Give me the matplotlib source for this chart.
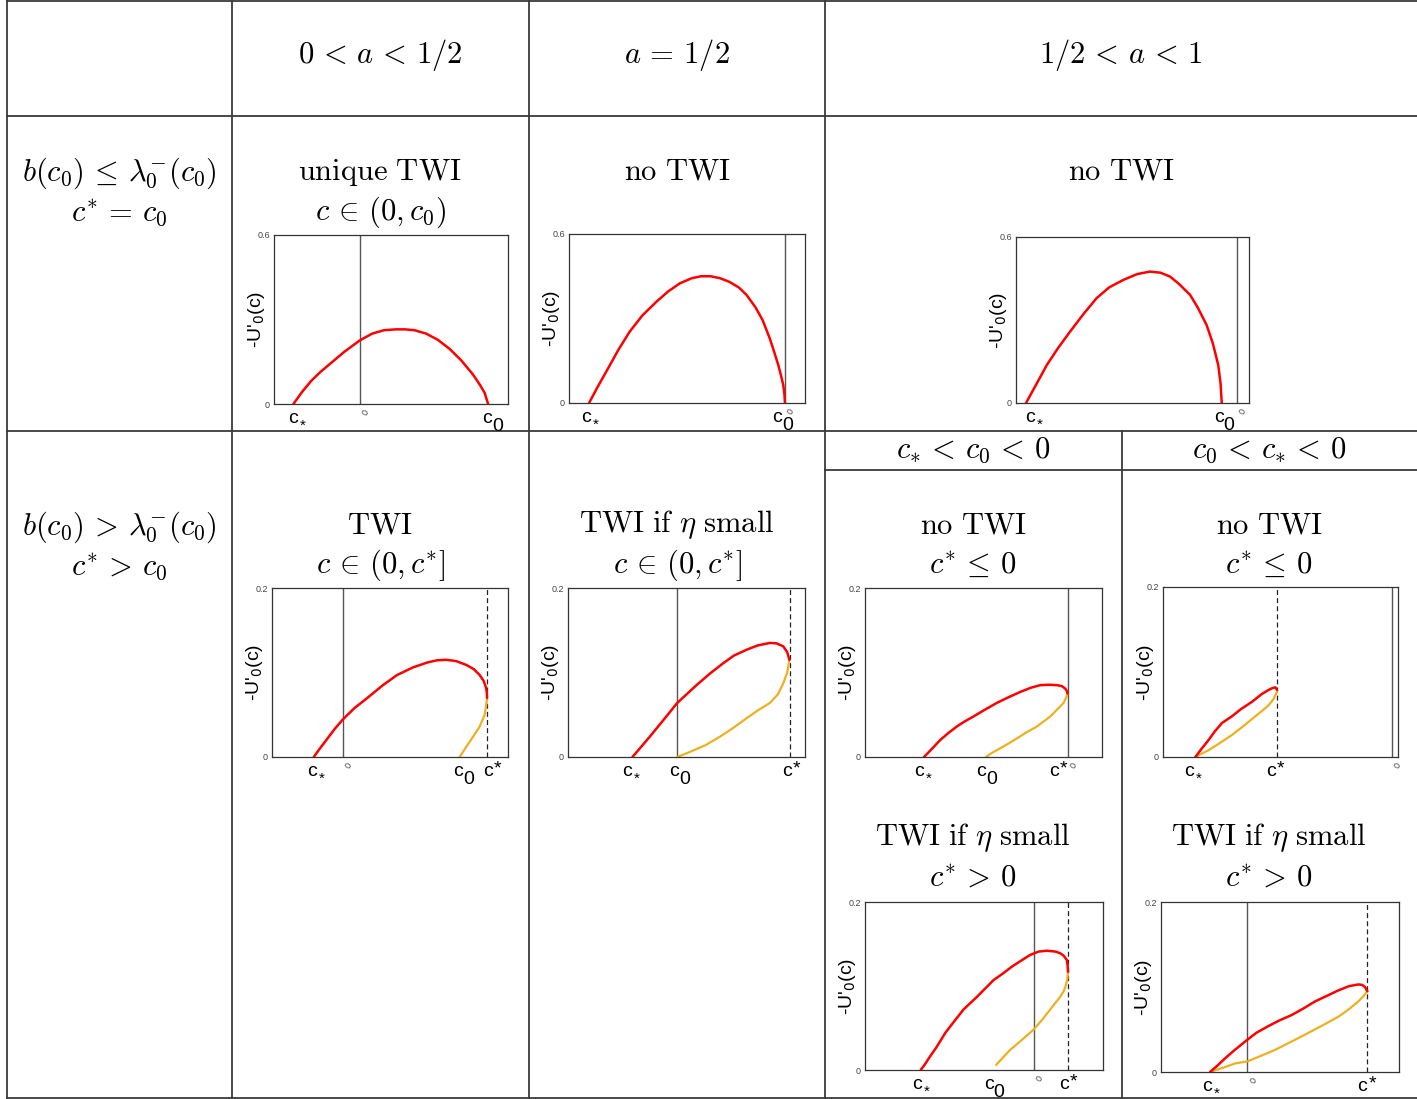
import numpy as np
import matplotlib
matplotlib.use("Agg")
import matplotlib.pyplot as plt

plt.rcParams['mathtext.fontset'] = 'cm'
plt.rcParams['font.family'] = ['Liberation Sans', 'DejaVu Sans']

W, H = 1417, 1099
RED = '#ff0000'
YEL = '#edb120'
GRID = '#3a3a3a'

# ---- table text ----
col_heads = [r'$0 \,<\, a \,<\, 1/2$', r'$a \,=\, 1/2$', r'$1/2 \,<\, a \,<\, 1$']
row_heads = [(r'$b(c_0) \,\leq\, \lambda_0^{-}(c_0)$', r'$c^{*} \,=\, c_0$'),
             (r'$b(c_0) \,>\, \lambda_0^{-}(c_0)$', r'$c^{*} \,>\, c_0$')]
sub_heads = [r'$c_{*} \,<\, c_0 \,<\, 0$', r'$c_0 \,<\, c_{*} \,<\, 0$']
titles = [(r'$\mathrm{unique\ TWI}$', r'$c \,\in\, (0, c_0)$'),
          (r'$\mathrm{no\ TWI}$', ''),
          (r'$\mathrm{no\ TWI}$', ''),
          (r'$\mathrm{TWI}$', r'$c \,\in\, (0, c^{*}]$'),
          (r'$\mathrm{TWI\ if\ }\eta\mathrm{\ small}$', r'$c \,\in\, (0, c^{*}]$'),
          (r'$\mathrm{no\ TWI}$', r'$c^{*} \,\leq\, 0$'),
          (r'$\mathrm{no\ TWI}$', r'$c^{*} \,\leq\, 0$'),
          (r'$\mathrm{TWI\ if\ }\eta\mathrm{\ small}$', r'$c^{*} \,>\, 0$'),
          (r'$\mathrm{TWI\ if\ }\eta\mathrm{\ small}$', r'$c^{*} \,>\, 0$')]

# ---- curve data (c scaled to the panel width, -U'_0(c)) ----
p1_red_c = [0.083, 0.12, 0.16, 0.20, 0.25, 0.30, 0.367, 0.42, 0.47, 0.52, 0.56, 0.60,
            0.65, 0.70, 0.75, 0.80, 0.85, 0.88, 0.90, 0.915]
p1_red_u = [0.0, 0.043, 0.083, 0.115, 0.150, 0.185, 0.226, 0.250, 0.262, 0.265, 0.265, 0.262,
            0.250, 0.228, 0.196, 0.155, 0.105, 0.068, 0.040, 0.0]

p2_red_c = [0.085, 0.12, 0.173, 0.21, 0.257, 0.31, 0.371, 0.42, 0.47, 0.52, 0.56, 0.60, 0.64,
            0.68, 0.72, 0.752, 0.79, 0.82, 0.85, 0.87, 0.887, 0.90, 0.908, 0.913, 0.915]
p2_red_u = [0.0, 0.055, 0.134, 0.190, 0.253, 0.310, 0.360, 0.396, 0.425, 0.443, 0.450, 0.450,
            0.443, 0.430, 0.410, 0.384, 0.340, 0.295, 0.231, 0.180, 0.134, 0.092, 0.063, 0.030, 0.0]

p3_red_c = [0.043, 0.09, 0.132, 0.18, 0.232, 0.29, 0.346, 0.40, 0.461, 0.52, 0.575, 0.62,
            0.661, 0.70, 0.747, 0.78, 0.818, 0.845, 0.868, 0.878, 0.883]
p3_red_u = [0.0, 0.072, 0.137, 0.198, 0.258, 0.322, 0.379, 0.418, 0.445, 0.466, 0.475, 0.471,
            0.457, 0.430, 0.391, 0.345, 0.282, 0.215, 0.137, 0.070, 0.0]

p4_red_c = [0.177, 0.20, 0.23, 0.265, 0.302, 0.35, 0.40, 0.47, 0.53, 0.597, 0.66, 0.70, 0.739,
            0.78, 0.823, 0.855, 0.880, 0.897, 0.906, 0.910, 0.911]
p4_red_u = [0.0, 0.009, 0.020, 0.033, 0.045, 0.058, 0.069, 0.085, 0.097, 0.106, 0.112, 0.1145,
            0.115, 0.1135, 0.109, 0.104, 0.097, 0.090, 0.083, 0.077, 0.070]
p4_yel_c = [0.911, 0.907, 0.901, 0.880, 0.852, 0.823, 0.795]
p4_yel_u = [0.070, 0.060, 0.050, 0.036, 0.024, 0.012, 0.0]

p5_red_c = [0.272, 0.345, 0.415, 0.461, 0.542, 0.60, 0.655, 0.70, 0.754, 0.80, 0.852, 0.88,
            0.908, 0.925, 0.934]
p5_red_u = [0.0, 0.024, 0.048, 0.064, 0.085, 0.099, 0.111, 0.120, 0.127, 0.132, 0.135, 0.1345,
            0.131, 0.124, 0.115]
p5_yel_c = [0.461, 0.514, 0.58, 0.641, 0.70, 0.754, 0.80, 0.852, 0.885, 0.908, 0.925, 0.934]
p5_yel_u = [0.0, 0.006, 0.014, 0.024, 0.035, 0.046, 0.055, 0.064, 0.074, 0.087, 0.100, 0.115]

p6_red_c = [0.249, 0.28, 0.317, 0.35, 0.387, 0.42, 0.458, 0.50, 0.556, 0.60, 0.655, 0.70,
            0.739, 0.78, 0.810, 0.83, 0.845, 0.852, 0.855]
p6_red_u = [0.0, 0.009, 0.020, 0.028, 0.036, 0.042, 0.048, 0.055, 0.064, 0.070, 0.077, 0.082,
            0.085, 0.0855, 0.085, 0.084, 0.081, 0.078, 0.075]
p6_yel_c = [0.511, 0.53, 0.556, 0.60, 0.641, 0.68, 0.725, 0.782, 0.81, 0.838, 0.848, 0.855]
p6_yel_u = [0.0, 0.004, 0.008, 0.015, 0.022, 0.029, 0.036, 0.048, 0.056, 0.064, 0.070, 0.075]

p7_red_c = [0.138, 0.165, 0.194, 0.22, 0.251, 0.294, 0.33, 0.379, 0.42, 0.450, 0.465, 0.478, 0.485]
p7_red_u = [0.0, 0.010, 0.020, 0.030, 0.040, 0.048, 0.056, 0.065, 0.074, 0.079, 0.081, 0.082, 0.079]
p7_yel_c = [0.138, 0.165, 0.194, 0.245, 0.294, 0.345, 0.393, 0.425, 0.450, 0.47, 0.485]
p7_yel_u = [0.0, 0.004, 0.008, 0.017, 0.026, 0.037, 0.048, 0.055, 0.061, 0.068, 0.077]

p8_red_c = [0.234, 0.25, 0.273, 0.30, 0.337, 0.375, 0.414, 0.44, 0.470, 0.505, 0.540, 0.58,
            0.617, 0.655, 0.694, 0.73, 0.764, 0.80, 0.820, 0.835, 0.848, 0.851, 0.853]
p8_red_u = [0.0, 0.006, 0.016, 0.027, 0.044, 0.058, 0.072, 0.079, 0.087, 0.097, 0.107, 0.115,
            0.123, 0.130, 0.137, 0.141, 0.142, 0.141, 0.139, 0.136, 0.131, 0.125, 0.117]
p8_yel_c = [0.551, 0.58, 0.610, 0.66, 0.708, 0.745, 0.778, 0.80, 0.820, 0.835, 0.842, 0.85, 0.853]
p8_yel_u = [0.006, 0.015, 0.024, 0.036, 0.048, 0.060, 0.072, 0.080, 0.087, 0.094, 0.099, 0.108, 0.117]

p9_red_c = [0.206, 0.235, 0.269, 0.31, 0.363, 0.40, 0.451, 0.50, 0.549, 0.60, 0.647, 0.70,
            0.745, 0.79, 0.829, 0.845, 0.857, 0.867]
p9_red_u = [0.0, 0.007, 0.016, 0.026, 0.038, 0.046, 0.054, 0.061, 0.067, 0.075, 0.083, 0.090,
            0.096, 0.101, 0.103, 0.1025, 0.100, 0.095]
p9_yel_c = [0.206, 0.26, 0.311, 0.363, 0.42, 0.479, 0.55, 0.619, 0.68, 0.745, 0.79, 0.829, 0.85, 0.867]
p9_yel_u = [0.0, 0.005, 0.010, 0.0125, 0.019, 0.026, 0.036, 0.046, 0.055, 0.065, 0.074, 0.083, 0.089, 0.095]

# labels along c: (position, script) where script is '_*', '_0' or '^*'
p1_ticks = [(0.104, '_*'), (0.932, '_0')]
p2_ticks = [(0.092, '_*'), (0.904, '_0')]
p3_ticks = [(0.082, '_*'), (0.890, '_0')]
p4_ticks = [(0.188, '_*'), (0.809, '_0'), (0.936, '^*')]
p5_ticks = [(0.268, '_*'), (0.468, '_0'), (0.944, '^*')]
p6_ticks = [(0.249, '_*'), (0.511, '_0'), (0.818, '^*')]
p7_ticks = [(0.133, '_*'), (0.481, '^*')]
p8_ticks = [(0.238, '_*'), (0.540, '_0'), (0.855, '^*')]
p9_ticks = [(0.213, '_*'), (0.867, '^*')]

# zero line, dashed c* line, y top value
p_zero = [0.367, 0.915, 0.948, 0.302, 0.461, 0.855, 0.974, 0.708, 0.363]
p_show0 = [True, True, True, True, False, True, True, True, True]
p_dash = [None, None, None, 0.910, 0.937, None, 0.485, 0.851, 0.867]
p_ymax = [0.6, 0.6, 0.6, 0.2, 0.2, 0.2, 0.2, 0.2, 0.2]

# panel boxes in pixels: left, top, right, bottom
boxes = [(274, 235, 508, 404), (569, 234, 805, 403), (1016, 237, 1249, 403),
         (272, 588, 508, 757), (568, 588, 805, 757), (865, 588, 1102, 757),
         (1163, 587, 1398, 757), (865, 902, 1103, 1070), (1161, 902, 1399, 1072)]

reds = [(p1_red_c, p1_red_u), (p2_red_c, p2_red_u), (p3_red_c, p3_red_u),
        (p4_red_c, p4_red_u), (p5_red_c, p5_red_u), (p6_red_c, p6_red_u),
        (p7_red_c, p7_red_u), (p8_red_c, p8_red_u), (p9_red_c, p9_red_u)]
yels = [None, None, None, (p4_yel_c, p4_yel_u), (p5_yel_c, p5_yel_u),
        (p6_yel_c, p6_yel_u), (p7_yel_c, p7_yel_u), (p8_yel_c, p8_yel_u),
        (p9_yel_c, p9_yel_u)]
ticks = [p1_ticks, p2_ticks, p3_ticks, p4_ticks, p5_ticks, p6_ticks,
         p7_ticks, p8_ticks, p9_ticks]


def c_label(ax, x, script):
    # MATLAB-like tex label: "c" plus full-size sub/superscript
    kw = dict(xycoords=('data', 'axes fraction'), textcoords='offset points',
              ha='center', va='baseline')
    ax.annotate('c', (x, 0), xytext=(-3.5, -13.5), fontsize=14, **kw)
    if script == '_0':
        ax.annotate('0', (x, 0), xytext=(4.0, -19.3), fontsize=14, **kw)
    elif script == '_*':
        ax.annotate('*', (x, 0), xytext=(3.5, -18.5), fontsize=11, **kw)
    else:
        ax.annotate('*', (x, 0), xytext=(3.5, -12.0), fontsize=14, **kw)


fig = plt.figure(figsize=(W / 100, H / 100), dpi=100)

# background axis in pixel units for the table
ax0 = fig.add_axes([0, 0, 1, 1])
ax0.set_xlim(0, W)
ax0.set_ylim(H, 0)
ax0.axis('off')

hlines = [(1, 7, W), (116, 7, W), (431, 7, W), (470, 825, W), (1098, 7, W)]
vlines = [(7, 0, 1099), (232, 0, 1099), (529, 0, 1099), (825, 0, 1099), (1122, 431, 1099)]
for y, x1, x2 in hlines:
    ax0.plot([x1, x2], [y, y], color=GRID, lw=1.3)
for x, y1, y2 in vlines:
    ax0.plot([x, x], [y1, y2], color=GRID, lw=1.3)

FS = 22
for x, s in zip([380, 677, 1121], col_heads):
    ax0.text(x, 55, s, ha='center', va='center', fontsize=FS)
for y, (a, b) in zip([173, 527], row_heads):
    ax0.text(119, y, a, ha='center', va='center', fontsize=FS)
    ax0.text(119, y + 40, b, ha='center', va='center', fontsize=FS)
for x, s in zip([973, 1269], sub_heads):
    ax0.text(x, 450, s, ha='center', va='center', fontsize=FS)

title_pos = [(380, 172), (677, 172), (1121, 172), (380, 525), (677, 525),
             (973, 525), (1269, 525), (973, 838), (1269, 838)]
for (x, y), (a, b) in zip(title_pos, titles):
    ax0.text(x, y, a, ha='center', va='center', fontsize=FS)
    if b:
        ax0.text(x, y + 40, b, ha='center', va='center', fontsize=FS)

# the small plots
for i in range(9):
    l, t, r, b = boxes[i]
    ax = fig.add_axes([l / W, 1 - b / H, (r - l) / W, (b - t) / H])
    ax.set_xlim(0, 1)
    ax.set_ylim(0, p_ymax[i])
    ax.axvline(p_zero[i], color='#555555', lw=1.0)
    if p_dash[i] is not None:
        ax.axvline(p_dash[i], color='#222222', lw=0.9, ls=(0, (4, 2.5)))
    if yels[i] is not None:
        ax.plot(yels[i][0], yels[i][1], color=YEL, lw=1.6, solid_capstyle='round')
    ax.plot(reds[i][0], reds[i][1], color=RED, lw=1.8, solid_capstyle='round')
    for s in ax.spines.values():
        s.set_color('#333333')
        s.set_linewidth(0.9)
    ax.set_xticks([])
    ax.set_yticks([0, p_ymax[i]])
    ax.set_yticklabels(['0', '%g' % p_ymax[i]])
    ax.tick_params(axis='y', length=0, pad=3, labelsize=6.5, labelcolor='#444444')
    ax.set_ylabel("-U'$_0$(c)", fontsize=14, math_fontfamily='dejavusans')
    ax.yaxis.set_label_coords(-0.03, 0.5)
    for c, sc in ticks[i]:
        c_label(ax, c, sc)
    if p_show0[i]:
        ax.annotate('0', (p_zero[i], 0), xycoords=('data', 'axes fraction'),
                    xytext=(0.5, -3), textcoords='offset points',
                    ha='left', va='top', fontsize=6.5, color='#444444',
                    rotation=60)

fig.savefig('out.png', dpi=100)
